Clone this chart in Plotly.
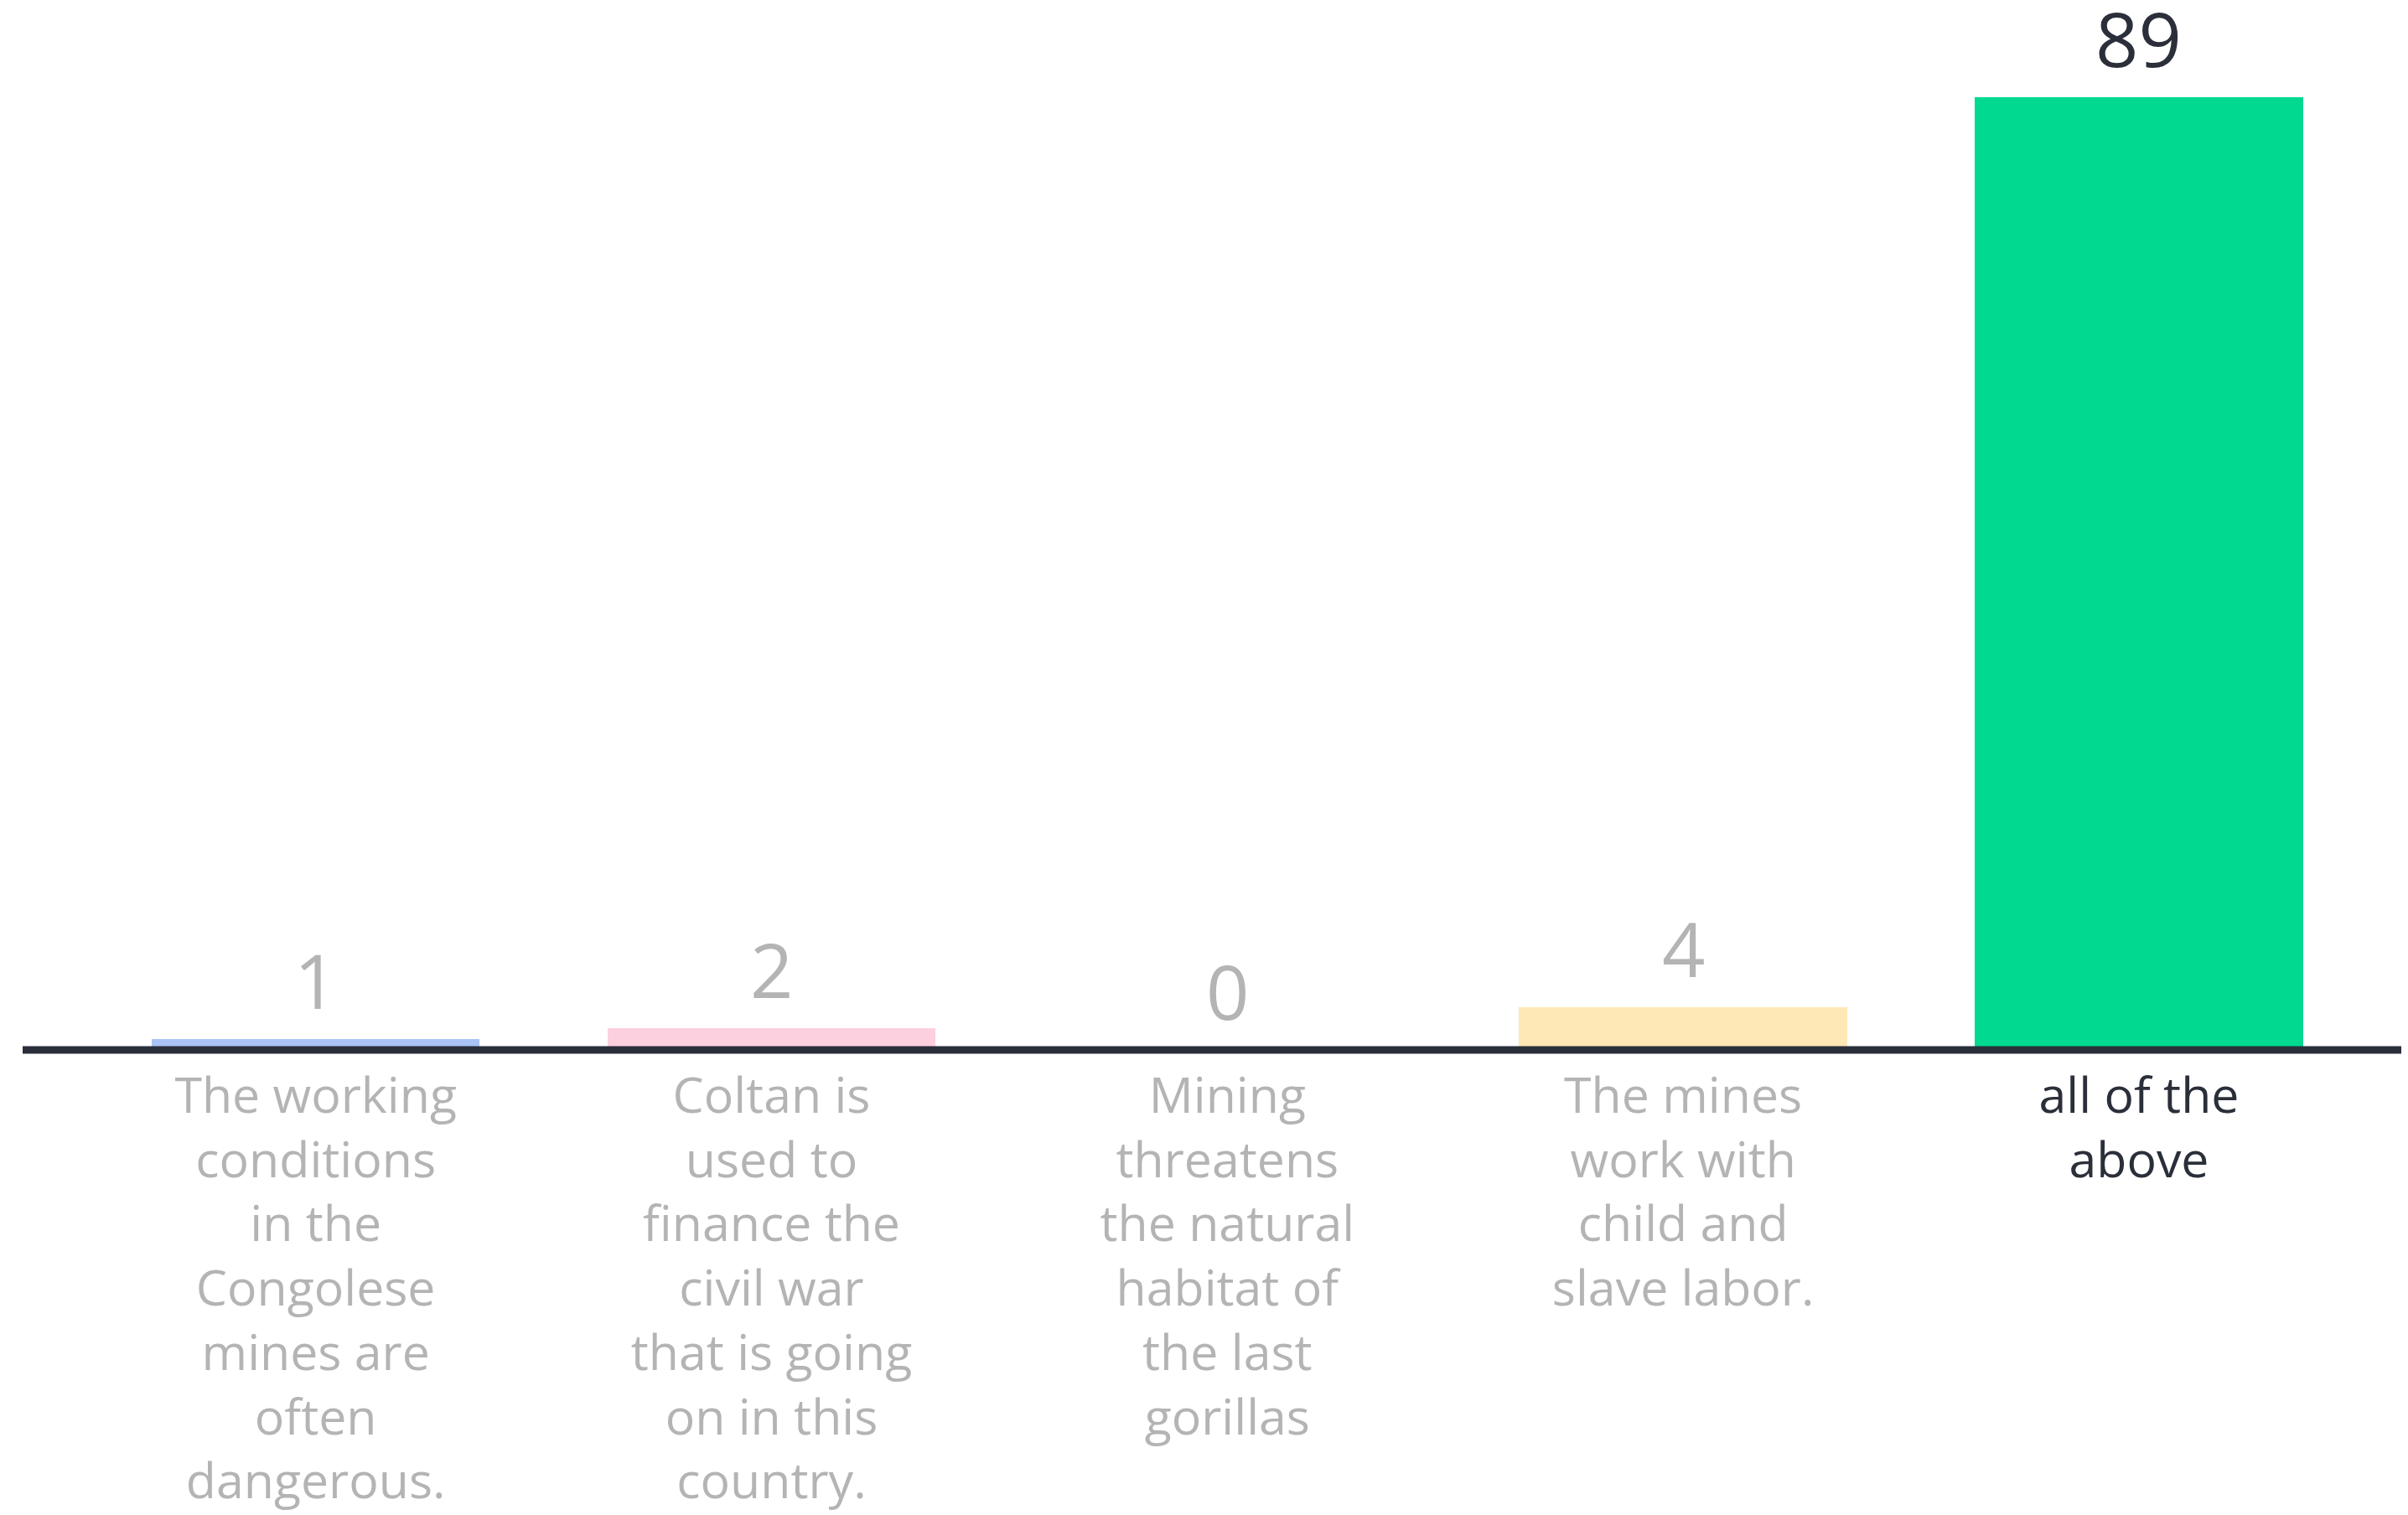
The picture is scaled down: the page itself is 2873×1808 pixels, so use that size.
import plotly.graph_objects as go

categories = [
    "The working<br>conditions<br>in the<br>Congolese<br>mines are<br>often<br>dangerous.",
    "Coltan is<br>used to<br>finance the<br>civil war<br>that is going<br>on in this<br>country.",
    "Mining<br>threatens<br>the natural<br>habitat of<br>the last<br>gorillas",
    "The mines<br>work with<br>child and<br>slave labor.",
    "all of the<br>above",
]
values = [1, 2, 0, 4, 89]
bar_colors = ["#aac4f7", "#fdd0df", "#f0f0f0", "#fee8b6", "#00d98f"]
label_colors = ["#b4b4b4", "#b4b4b4", "#b4b4b4", "#b4b4b4", "#2a2f3a"]

xs = list(range(len(categories)))
FONT = "Open Sans, Lato, sans-serif"

fig = go.Figure()
fig.add_trace(go.Bar(
    x=xs, y=values, width=0.72,
    marker=dict(color=bar_colors, line=dict(width=0)),
    hoverinfo="skip",
))

for x, v, c in zip(xs, values, label_colors):
    fig.add_annotation(
        x=x, y=v, text=str(v), showarrow=False,
        yanchor="bottom", yshift=8,
        font=dict(family=FONT, size=90, color=c),
    )

ticktext = [f'<span style="color:{c}">{t}</span>' for t, c in zip(categories, label_colors)]

# baseline rule (paper-referenced so it is not clipped by the plot area)
fig.add_shape(
    type="line", xref="paper", yref="paper", x0=0, x1=1, y0=0, y1=0,
    line=dict(color="#2a2f3a", width=9), layer="above",
)

fig.update_layout(
    width=2873, height=1808,
    margin=dict(l=19, r=0, t=6, b=563),
    paper_bgcolor="white", plot_bgcolor="white",
    showlegend=False,
    bargap=0,
    xaxis=dict(
        range=[-0.643, 4.605], tickvals=xs, ticktext=ticktext,
        showgrid=False, zeroline=False, showline=False, ticks="",
        tickfont=dict(family=FONT, size=59, color="#b4b4b4"),
        ticklabelstandoff=15,
        automargin=False, fixedrange=True,
    ),
    yaxis=dict(
        range=[0, 97], visible=False, showgrid=False, zeroline=False,
        automargin=False, fixedrange=True,
    ),
)

fig.write_html("out.html")
